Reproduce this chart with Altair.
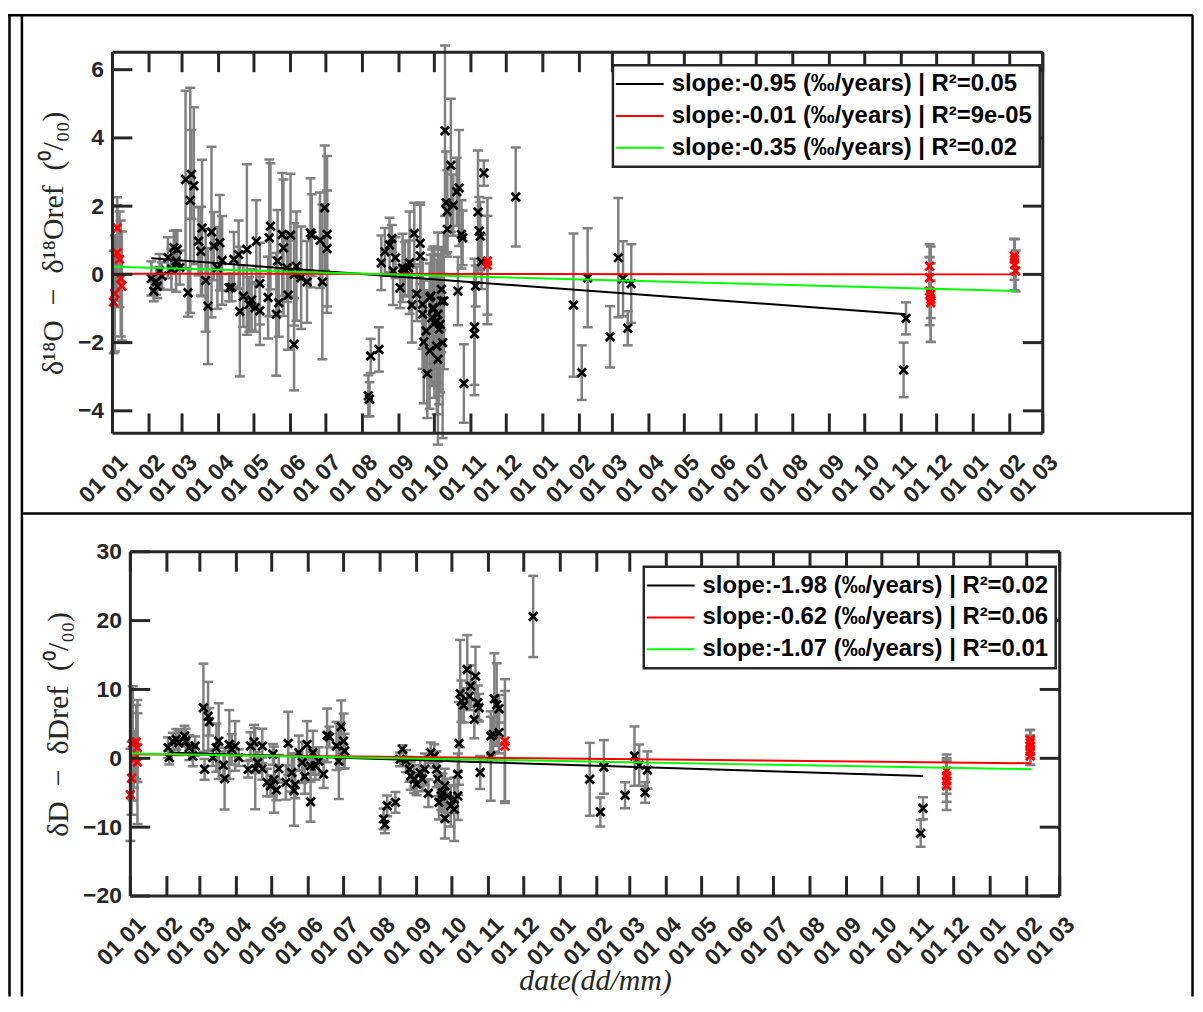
import altair as alt
import pandas as pd

# ---------------- data (day = days since 2017-01-01) ----------------
# delta-18O panel, black samples
o18_k_day = [33, 35, 37, 38, 40, 42, 47, 50, 52, 55, 54, 57,
             62, 67, 69, 66, 64, 73, 75, 76, 79, 81, 84, 86, 89, 91, 93,
             99, 101, 103, 107, 114, 108, 111, 116, 118, 121, 122, 125, 125,
             132, 134, 133, 139, 140, 141, 144, 145, 148, 149, 151, 154, 154, 156, 160, 165, 168, 169, 176, 178, 180, 182, 182,
             217, 218, 219, 226, 228, 231, 235, 237, 240, 238, 244, 246, 248, 251, 252, 254, 256, 258, 261, 261, 263, 264, 266, 267, 269, 269,
             270, 272, 271, 273, 276, 278, 277, 279, 279, 275, 276, 263, 272, 275, 281, 280,
             282, 287, 283, 284, 289, 292, 294, 284, 296, 297, 293, 298,
             310, 315, 311, 312, 313, 308, 307, 307,
             342,
             391, 398, 403, 422, 429, 433, 437, 440,
             673, 671]
o18_k_val = [-0.12, -0.49, -0.2, -0.35, 0.1, -0.05, 0.49, 0.15, 0.78, 0.73, 0.39, 0.2,
             2.78, 2.93, 2.6, 2.17, -0.54, 0.97, 0.68, 1.36, -0.18, -0.93, 1.24, 0.83, 0.19, 0.93, 0.41,
             -0.39, -0.38, 0.44, 0.58, 0.73, -1.09, -0.64, -0.88, -0.75, -0.98, 0.97, -1.07, -0.27,
             -0.68, 1.41, 1.07, -1.17, 0.39, -0.83, 1.17, 0.78, 0.19, -0.61, 1.15, 0.0, -2.05, 0.24, -0.1, -0.22, 1.22, 1.15, 1.0, -0.22, 1.95, 1.17, 0.76,
             -3.56, -3.66, -2.39, -2.2, 0.34, 0.66, 0.86, 1.05, 0.49, 0.1, -0.39, 0.19, 0.15, 0.19, 0.34, -0.9, 1.2, -0.57, 0.54, 0.91, -1.17, -1.98, -1.66, -2.91, -2.24, -0.68,
             -0.63, -0.98, -1.27, -1.42, -1.17, -1.46, -1.61, -0.44, -0.78, -2.1, -2.49, -0.88, -1.02, -1.37, -0.78, -2.0,
             4.21, 3.2, 2.1, 1.85, 2.03, 2.42, 2.53, 1.32, 1.17, 1.07, -0.49, -3.2,
             1.83, 2.97, 1.27, 1.12, 0.37, -0.34, -1.54, -1.74,
             2.27,
             -0.9, -2.88, -0.1, -1.83, 0.49, -0.13, -1.58, -0.27,
             -1.29, -2.8]
o18_k_err = [0.5, 0.3, 0.4, 0.35, 0.5, 0.4, 0.6, 0.6, 0.5, 0.55, 0.9, 0.5,
             2.6, 1.3, 2.3, 3.3, 0.7, 1.0, 1.3, 2.0, 1.5, 1.7, 2.5, 1.0, 1.2, 1.4, 1.3,
             0.4, 0.4, 0.8, 1.0, 2.5, 1.9, 0.9, 0.8, 0.9, 0.7, 1.2, 1.0, 1.2,
             1.2, 1.85, 2.3, 1.8, 1.5, 1.0, 1.8, 2.0, 1.0, 1.6, 1.8, 1.5, 1.35, 1.6, 1.5, 1.2, 1.6, 1.2, 1.4, 2.27, 1.83, 2.3, 1.7,
             0.6, 0.5, 0.5, 0.65, 0.8, 0.7, 0.8, 0.4, 0.6, 1.0, 0.6, 1.0, 0.8, 0.8, 1.5, 1.1, 0.9, 0.8, 1.5, 1.2, 1.6, 1.8, 1.2, 1.3, 1.7, 1.0,
             1.2, 1.8, 2.0, 2.2, 2.4, 2.0, 2.2, 1.2, 1.5, 2.0, 2.5, 1.3, 1.6, 1.8, 2.0, 2.8,
             2.5, 1.95, 1.5, 1.2, 0.9, 1.0, 1.7, 0.8, 1.0, 0.8, 1.0, 1.15,
             1.8, 0.37, 1.0, 1.0, 0.8, 0.6, 2.0, 1.5,
             1.45,
             2.1, 0.8, 1.45, 0.9, 1.75, 1.1, 0.5, 1.15,
             0.47, 0.8]
# delta-18O panel, red samples
o18_r_day = [4, 4, 6, 7, 8, 2, 1, 318, 318, 693, 693, 693, 694, 694, 694, 765, 765, 765, 766]
o18_r_val = [1.36, 0.63, 0.44, -0.12, -0.34, -0.56, -0.81, 0.39, 0.27, 0.24, -0.1, -0.49, -0.58, -0.73, -0.83, 0.54, 0.44, 0.29, 0.1]
o18_r_err = [0.9, 1.4, 1.4, 1.7, 1.6, 1.7, 1.5, 1.85, 1.45, 0.64, 0.6, 1.0, 1.4, 0.55, 1.15, 0.5, 0.6, 0.75, 0.6]

# delta-D panel, black samples
dD_k_day = [32, 33, 36, 39, 41, 46, 47, 50, 53, 55,
            62, 66, 67, 63, 70, 73, 75, 79, 80, 84, 86, 89, 92,
            100, 102, 105, 106, 108, 112, 112, 116, 119, 122, 124, 126, 121, 132, 134, 137, 139,
            140, 143, 146, 148, 150, 153, 153, 155, 157, 160, 164, 167, 169, 175, 177, 179, 181, 182,
            216, 215, 218, 225, 229, 231, 234, 237, 238, 241, 243, 246, 248, 250, 253, 255, 258, 260, 261,
            262, 264, 265, 267, 267, 269, 272, 275, 275, 278, 278, 279,
            280, 281, 283, 286, 288, 289, 293, 292, 295, 296, 297,
            309, 311, 313, 306, 308, 313, 306,
            342,
            390, 399, 402, 420, 428, 432, 437, 439,
            673, 671]
dD_k_val = [1.55, 0.1, 2.5, 2.75, 2.27, 3.23, 2.5, 1.55, 0.33, 1.78,
            7.35, 6.1, 5.3, -1.6, 0.1, 1.55, 2.5, -1.0, -2.95, 2.0, 1.3, 1.8, 0.1,
            -1.6, 1.78, 2.36, -1.5, -0.62, 1.78, -1.5, -3.5, -4.0, -3.1, -4.6, -1.5, 0.58, -3.5, 2.17, -2.07, -4.7,
            -3.8, 0.8, -0.6, -2.65, 2.0, -1.1, -6.3, 0.8, -1.1, -0.4, -2.3, 3.33, 3.1, 1.8, -0.4, 4.6, 2.5, 1.06,
            -9.6, -8.8, -6.9, -6.4, -0.15, 1.3, -0.4, -1.6, -2.56, -3.0, -3.77, -2.07, -3.0, -1.6, -5.07, 0.8, 0.33, -1.6, -3.0,
            -6.4, -5.46, -5.0, -4.0, -8.74, -5.46, -6.9, -5.94, -7.4, -5.46, -2.3, 2.17,
            9.4, 8.3, 7.7, 12.9, 9.0, 10.5, 11.9, 5.65, 8.07, 7.35, -2.07,
            8.65, 7.8, 7.2, 3.23, 3.48, 3.72, 0.33,
            20.6,
            -3.05, -7.8, -1.26, -5.36, 0.33, -1.0, -4.97, -1.7,
            -7.25, -10.9]
dD_k_err = [1.5, 1.0, 1.2, 1.5, 1.8, 1.5, 1.8, 1.8, 1.5, 1.4,
            6.4, 5.0, 2.0, 1.5, 1.2, 3.5, 5.5, 2.0, 4.5, 5.0, 2.2, 3.6, 1.2,
            1.2, 2.0, 2.5, 5.9, 1.5, 2.5, 1.6, 2.0, 1.5, 4.8, 1.5, 2.0, 1.5, 2.5, 4.6, 2.8, 5.1,
            2.0, 2.5, 3.0, 2.5, 3.4, 2.0, 2.9, 3.2, 2.0, 2.0, 2.0, 3.9, 1.5, 3.5, 5.5, 3.8, 4.0, 2.5,
            1.3, 1.5, 1.5, 1.5, 1.0, 0.6, 1.6, 1.8, 2.0, 2.0, 1.6, 2.0, 1.8, 2.3, 2.0, 1.5, 1.7, 2.6, 2.5,
            2.5, 2.0, 2.8, 2.5, 2.9, 2.5, 3.0, 2.0, 4.6, 3.5, 3.0, 6.0,
            7.8, 3.0, 2.5, 5.0, 2.0, 3.0, 4.3, 2.75, 2.5, 2.0, 2.4,
            6.6, 6.0, 2.0, 2.8, 2.5, 3.0, 6.5,
            5.9,
            5.3, 2.1, 3.9, 1.9, 4.3, 3.0, 1.5, 2.7,
            1.6, 1.95]
# delta-D panel, red samples
dD_r_day = [2, 5, 6, 3, 6, 1, 0, 318, 318, 693, 693, 693, 693, 764, 764, 764, 764, 764]
dD_r_val = [2.17, 2.36, 1.55, -0.14, -0.53, -2.9, -5.3, 2.5, 1.78, -1.84, -2.56, -3.3, -4.0, 2.75, 2.27, 1.7, 1.06, 0.33]
dD_r_err = [8.3, 5.4, 5.0, 4.1, 9.0, 5.3, 6.7, 9.0, 8.0, 2.4, 2.6, 3.0, 3.5, 1.4, 1.8, 1.6, 2.0, 1.3]

# regression lines (start day, start value, end day, end value)
o18_fit_labels = ["slope:-0.95 (‰/years) | R²=0.05",
                  "slope:-0.01 (‰/years) | R²=9e-05",
                  "slope:-0.35 (‰/years) | R²=0.02"]
o18_fit_day0 = [33, 1, 1]
o18_fit_val0 = [0.47, 0.02, 0.22]
o18_fit_day1 = [673, 766, 766]
o18_fit_val1 = [-1.17, 0.0, -0.49]

dD_fit_labels = ["slope:-1.98 (‰/years) | R²=0.02",
                 "slope:-0.62 (‰/years) | R²=0.06",
                 "slope:-1.07 (‰/years) | R²=0.01"]
dD_fit_day0 = [33, 1, 1]
dD_fit_val0 = [0.85, 0.6, 0.7]
dD_fit_day1 = [673, 765, 765]
dD_fit_val1 = [-2.56, -0.72, -1.6]

fit_colors = ["#000000", "#ff0000", "#00ff00"]

o18_yticks = [-4, -2, 0, 2, 4, 6]
dD_yticks = [-20, -10, 0, 10, 20, 30]
month_ticks = pd.date_range("2017-01-01", "2019-03-01", freq="MS")

# ---------------- helpers ----------------
ORIGIN = pd.Timestamp("2017-01-01")
AX = "#262626"
GRAY = "#808080"
FONT = "Liberation Sans"
SERIF = "Liberation Serif"
XPATH = "M-1,-1L1,1M1,-1L-1,1"
CW, CH = 1193, 991          # whole canvas (page x 8..1201, y 8..999)
SP = "\u2002"


def to_dates(days):
    return [(ORIGIN + pd.Timedelta(days=int(d))).strftime("%Y/%m/%d") for d in days]


def pts_df(day, val, err):
    return pd.DataFrame({
        "date": to_dates(day),
        "val": val,
        "lo": [v - e for v, e in zip(val, err)],
        "hi": [v + e for v, e in zip(val, err)],
    })


def fit_df(labels, d0, v0, d1, v1):
    rows = []
    for lab, a, b, c, d in zip(labels, d0, v0, d1, v1):
        rows.append({"label": lab, "date": to_dates([a])[0], "val": b})
        rows.append({"label": lab, "date": to_dates([c])[0], "val": d})
    return pd.DataFrame(rows)


XDOM = [alt.DateTime(year=2017, month=1, date=1), alt.DateTime(year=2019, month=3, date=1)]
MVALS = [alt.DateTime(year=int(d.year), month=int(d.month), date=1) for d in month_ticks]
mt_df = pd.DataFrame({"date": [d.strftime("%Y/%m/%d") for d in month_ticks]})


def seg(x1, y1, x2, y2, color="black", sw=2.5):
    return alt.Chart(alt.Data(values=[{}])).mark_rule(color=color, strokeWidth=sw).encode(
        x=alt.value(x1), x2=alt.value(x2), y=alt.value(y1), y2=alt.value(y2))


def panel(kdf, rdf, fdf, labels, ydom, yticks, ytitle, box, legx, legy, xtitle=None):
    L, T, R, B = box
    xs = alt.Scale(domain=XDOM, nice=False, range=[L, R])
    ys = alt.Scale(domain=ydom, nice=False, zero=False, range=[B, T])
    xkw = dict(orient="bottom", offset=B - CH, values=MVALS, format="%d %m", labelAngle=-45,
               labelAlign="right", labelBaseline="middle", labelFont=FONT, labelFontSize=23,
               labelFontWeight="bold", labelColor=AX, labelPadding=25, labelOffset=11,
               labelOverlap=False, labelFlush=False, ticks=False, domain=False, grid=False)
    if xtitle:
        xkw.update(title=xtitle, titleFont=SERIF, titleFontSize=30, titleFontStyle="italic",
                   titleFontWeight="normal", titleColor=AX, titlePadding=-4)
    else:
        xkw.update(title=None)
    xax = alt.Axis(**xkw)
    yax = alt.Axis(orient="left", offset=-L, values=yticks, labelFont=FONT, labelFontSize=23,
                   labelFontWeight="bold", labelColor=AX, labelPadding=9, ticks=False,
                   domain=False, grid=False, title=ytitle, titleFont=SERIF, titleFontSize=30,
                   titleFontWeight="normal", titleColor=AX, titlePadding=9)

    def X(f):
        return alt.X(f, type="temporal", scale=xs, axis=xax)

    def Y(f):
        return alt.Y(f, type="quantitative", scale=ys, axis=yax)

    allp = pd.concat([kdf, rdf], ignore_index=True)
    bars = alt.Chart(allp).mark_rule(color=GRAY, strokeWidth=2.5, clip=True).encode(
        x=X("date"), y=Y("lo"), y2=alt.Y2("hi"))
    cap_hi = alt.Chart(allp).mark_tick(orient="horizontal", size=10, thickness=2.5, color=GRAY,
                                       opacity=1, clip=True).encode(x=X("date"), y=Y("hi"))
    cap_lo = alt.Chart(allp).mark_tick(orient="horizontal", size=10, thickness=2.5, color=GRAY,
                                       opacity=1, clip=True).encode(x=X("date"), y=Y("lo"))
    pk = alt.Chart(kdf).mark_point(shape=XPATH, size=72, filled=False, strokeWidth=2.8,
                                   color="black", opacity=1).encode(x=X("date"), y=Y("val"))
    pr = alt.Chart(rdf).mark_point(shape=XPATH, size=72, filled=False, strokeWidth=2.8,
                                   color="#ff0000", opacity=1).encode(x=X("date"), y=Y("val"))
    fits = alt.Chart(fdf).mark_line(strokeWidth=2, clip=True).encode(
        x=X("date"), y=Y("val"),
        color=alt.Color("label:N", scale=alt.Scale(domain=labels, range=fit_colors),
                        legend=alt.Legend(orient="none", legendX=legx, legendY=legy, title=None,
                                          direction="vertical", symbolType="M-2.4,0H2.4",
                                          symbolSize=400, symbolStrokeWidth=2, symbolOffset=8,
                                          labelOffset=20, labelFont=FONT, labelFontSize=24,
                                          labelFontWeight="bold", labelColor="black",
                                          labelLimit=1000, padding=7, rowPadding=8,
                                          strokeColor=AX, fillColor="white", cornerRadius=0)))
    ydf = pd.DataFrame({"v": yticks})
    tick_b = alt.Chart(mt_df).mark_rule(color=AX, strokeWidth=3).encode(
        x=X("date"), x2=alt.X2("date"), y=alt.value(B - 20), y2=alt.value(B))
    tick_t = alt.Chart(mt_df).mark_rule(color=AX, strokeWidth=3).encode(
        x=X("date"), x2=alt.X2("date"), y=alt.value(T), y2=alt.value(T + 20))
    tick_l = alt.Chart(ydf).mark_rule(color=AX, strokeWidth=3).encode(
        y=Y("v"), y2=alt.Y2("v"), x=alt.value(L), x2=alt.value(L + 20))
    tick_r = alt.Chart(ydf).mark_rule(color=AX, strokeWidth=3).encode(
        y=Y("v"), y2=alt.Y2("v"), x=alt.value(R - 20), x2=alt.value(R))
    boxes = [seg(L, T, R, T, AX, 3), seg(L, B, R, B, AX, 3),
             seg(L, T, L, B, AX, 3), seg(R, T, R, B, AX, 3)]
    return alt.layer(bars, cap_hi, cap_lo, pk, pr, fits, tick_b, tick_t, tick_l, tick_r, *boxes)


# plot boxes in canvas pixels (left, top, right, bottom)
TOP_BOX = (105, 42, 1040, 425)
BOT_BOX = (123, 544, 1057, 890)

top = panel(pts_df(o18_k_day, o18_k_val, o18_k_err), pts_df(o18_r_day, o18_r_val, o18_r_err),
            fit_df(o18_fit_labels, o18_fit_day0, o18_fit_val0, o18_fit_day1, o18_fit_val1),
            o18_fit_labels, [-4.66, 6.51], o18_yticks,
            f"δ¹⁸O{SP}−{SP}δ¹⁸Oref{SP}(⁰/₀₀)", TOP_BOX, 608, 55)
bot = panel(pts_df(dD_k_day, dD_k_val, dD_k_err), pts_df(dD_r_day, dD_r_val, dD_r_err),
            fit_df(dD_fit_labels, dD_fit_day0, dD_fit_val0, dD_fit_day1, dD_fit_val1),
            dD_fit_labels, [-20, 30], dD_yticks,
            f"δD{SP}−{SP}δDref{SP}(⁰/₀₀)", BOT_BOX, 639, 559, xtitle="date(dd/mm)")

frames = [seg(0, 4.8, 1191, 4.8),
          seg(1.5, 4.8, 1.5, CH),
          seg(14, 4.8, 14, CH),
          seg(1190.5, 4.8, 1190.5, CH),
          seg(14, 505.5, 1190.5, 505.5)]

chart = alt.layer(*frames, top, bot).resolve_scale(
    x="independent", y="independent", color="independent"
).properties(
    width=CW, height=CH, autosize=alt.AutoSizeParams(type="none"),
    padding={"left": 0, "top": 0, "right": 0, "bottom": 0}, background="white"
).configure_view(strokeWidth=0).configure_legend(strokeWidth=2.5)

chart.save("out.html", embed_options={"renderer": "svg", "actions": False})
